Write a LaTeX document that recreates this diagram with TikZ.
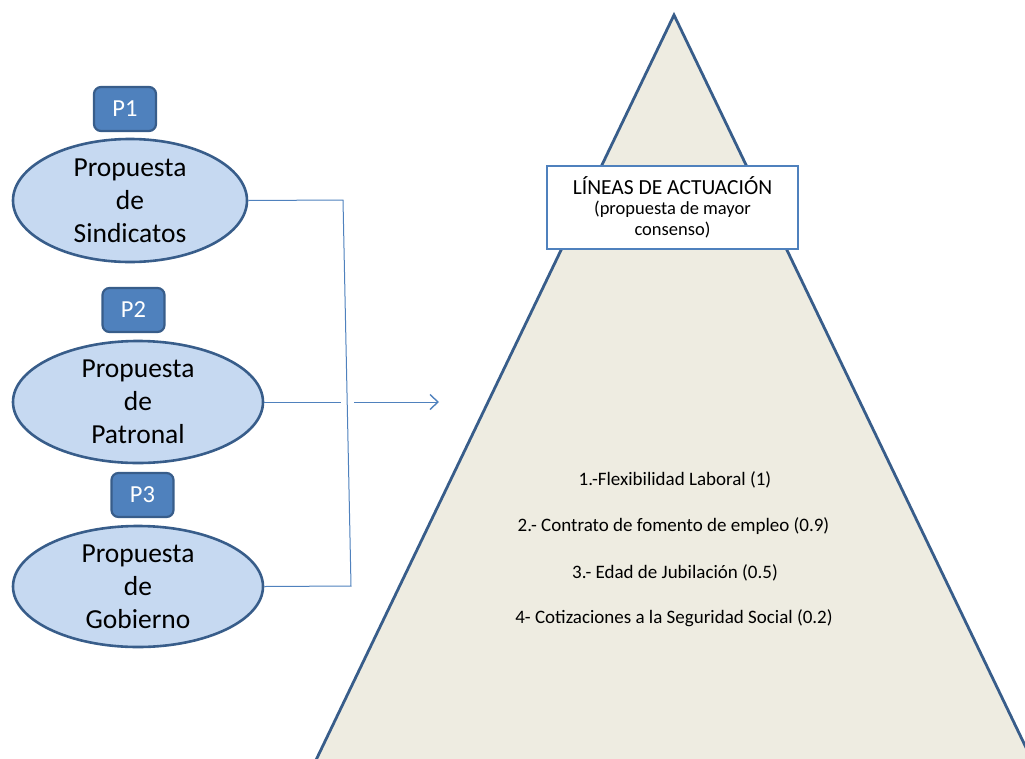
\documentclass[tikz,border=0pt]{standalone}
\usepackage{fontspec}
\setmainfont{Carlito}
\usetikzlibrary{arrows.meta,shapes.geometric}
\definecolor{dkblue}{HTML}{385D8A}
\definecolor{midblue}{HTML}{4F81BD}
\definecolor{ltblue}{HTML}{C6D9F1}
\definecolor{beige}{HTML}{EEECE1}
\tikzset{
  prop/.style={ellipse, draw=dkblue, line width=2.6pt, fill=ltblue, inner sep=0pt,
    align=center, font=\fontsize{27.5}{33}\selectfont, text=black},
  tag/.style={draw=dkblue, line width=2.2pt, fill=midblue, rounded corners=7pt,
    minimum width=62pt, minimum height=44pt, inner sep=0pt, text=white,
    font=\fontsize{24.5}{28}\selectfont},
  conn/.style={draw=midblue, line width=1pt},
  item/.style={font=\fontsize{19}{22}\selectfont, text=black}
}
\begin{document}
\begin{tikzpicture}[x=1pt,y=-1pt]
\useasboundingbox (0,0) rectangle (1025,758);
\clip (0,0) rectangle (1025,758);
% pyramid
\draw[fill=beige, draw=dkblue, line width=2.8pt, line join=miter]
  (674,15) -- (674+0.4805*785,800) -- (674-0.4805*785,800) -- cycle;
% title box
\node[draw=midblue, line width=2.2pt, fill=white, minimum width=251pt, minimum height=83pt,
  inner sep=0pt, align=center, font=\fontsize{18.5}{21}\selectfont] (lin) at (672.5,207.5)
  {\fontsize{21.5}{24}\selectfont LÍNEAS DE ACTUACIÓN\\[-1pt]
   \fontsize{18.5}{21}\selectfont (propuesta de mayor\\ consenso)};
% list
\node[item] (l1) at (675,480) {1.-Flexibilidad Laboral (1)};
\node[item] (l2) at (673.5,526) {2.- Contrato de fomento de empleo (0.9)};
\node[item] (l3) at (675,573) {3.- Edad de Jubilación (0.5)};
\node[item] (l4) at (674,618) {4- Cotizaciones a la Seguridad Social (0.2)};
% ellipses
\node[prop, minimum width=234pt, minimum height=123pt] (e1) at (130,200.5) {Propuesta\\de\\Sindicatos};
\node[prop, minimum width=250pt, minimum height=122pt] (e2) at (138,402) {Propuesta\\de\\Patronal};
\node[prop, minimum width=250pt, minimum height=121pt] (e3) at (138,586.5) {Propuesta\\de\\Gobierno};
% tags
\node[tag] (p1) at (125,109) {P1};
\node[tag] (p2) at (133.5,310) {P2};
\node[tag] (p3) at (142.5,495) {P3};
% connectors
\coordinate (j1) at (343,200);
\coordinate (j3) at (351,586);
\coordinate (g1) at (341,402);
\coordinate (g2) at (354,402);
\coordinate (tip) at (439,402);
\draw[conn] (e1.east) -- (j1) -- (j3) -- (e3.east);
\draw[conn] (e2.east) -- (g1);
\draw[conn, -{Straight Barb[length=8pt,width=15pt,line width=1.4pt]}] (g2) -- (tip);
\end{tikzpicture}
\end{document}
